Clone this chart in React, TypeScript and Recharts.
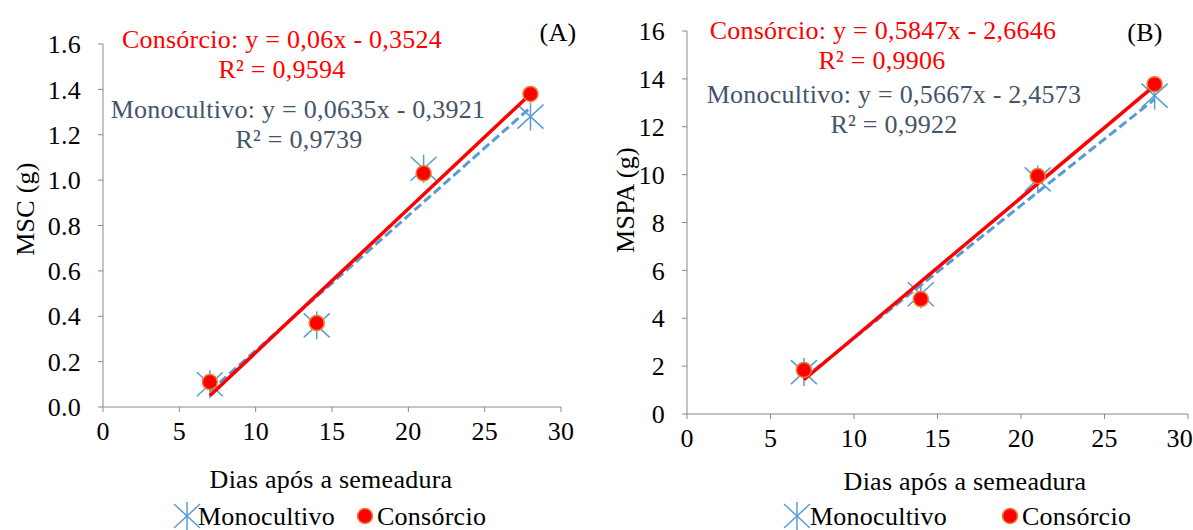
import { ScatterChart, Scatter, XAxis, YAxis, Customized } from "recharts";

const dias = [7, 14, 21, 28];
const mscMono = [0.1, 0.36, 1.05, 1.28];
const mscCons = [0.11, 0.37, 1.03, 1.38];
const mspaMono = [1.75, 5.0, 9.8, 13.3];
const mspaCons = [1.84, 4.8, 9.94, 13.78];

// extremos das linhas de tendência
const trendDias = [7, 28];
const mscMonoTrend = [0.07, 1.32];
const mscConsTrend = [0.05, 1.38];
const mspaMonoTrend = [1.5, 13.15];
const mspaConsTrend = [1.43, 13.72];

const xTicks = [0, 5, 10, 15, 20, 25, 30];
const mscTicks = [0, 0.2, 0.4, 0.6, 0.8, 1.0, 1.2, 1.4, 1.6];
const mspaTicks = [0, 2, 4, 6, 8, 10, 12, 14, 16];

const FONT = "Liberation Serif";
const RED = "#FF0000";
const SLATE = "#44546A";
const BLUE = "#5B9BD5";
const AXIS = "#898989";

const toPts = (xs: number[], ys: number[]) => xs.map((x, i) => ({ x, y: ys[i] }));

const Asterisk = (props: any) => {
  const { cx, cy } = props;
  return (
    <g stroke={BLUE} strokeWidth={1.5}>
      <line x1={cx - 13} y1={cy - 12} x2={cx + 13} y2={cy + 12} />
      <line x1={cx - 13} y1={cy + 12} x2={cx + 13} y2={cy - 12} />
      <line x1={cx} y1={cy - 14} x2={cx} y2={cy + 14} />
    </g>
  );
};

const RedDot = (props: any) => (
  <circle cx={props.cx} cy={props.cy} r={7.5} fill={RED} stroke="#ED7D31" strokeWidth={1.5} />
);

const txt = { fontFamily: FONT, fontSize: 26, letterSpacing: 0.25 };

type Note = { text: string; x: number; y: number; color: string };

type PanelProps = {
  width: number;
  margin: { top: number; right: number; left: number; bottom: number };
  yAxisWidth: number;
  xAxisHeight: number;
  yTicks: number[];
  yMax: number;
  yFmt: (v: number) => string;
  mono: number[];
  cons: number[];
  monoTrend: number[];
  consTrend: number[];
  notes: Note[];
  yLabel: { text: string; x: number; y: number };
  xLabel: { x: number; y: number };
  legend: { star: number; monoText: number; dot: number; consText: number; y: number };
};

function Panel(p: PanelProps) {
  return (
    <ScatterChart width={p.width} height={530} margin={p.margin}>
      <XAxis
        type="number"
        dataKey="x"
        domain={[0, 30]}
        ticks={xTicks}
        height={p.xAxisHeight}
        axisLine={{ stroke: AXIS }}
        tickLine={{ stroke: AXIS }}
        tickSize={5}
        tickMargin={10}
        tick={{ fill: "#000", ...txt }}
      />
      <YAxis
        type="number"
        dataKey="y"
        domain={[0, p.yMax]}
        ticks={p.yTicks}
        width={p.yAxisWidth}
        tickFormatter={p.yFmt}
        axisLine={{ stroke: AXIS }}
        tickLine={{ stroke: AXIS }}
        tickSize={5}
        tickMargin={17}
        tick={{ fill: "#000", ...txt }}
      />
      <Scatter data={toPts(dias, p.mono)} shape={Asterisk} isAnimationActive={false} />
      <Scatter
        data={toPts(trendDias, p.monoTrend)}
        line={{ stroke: BLUE, strokeWidth: 3, strokeDasharray: "9 4" }}
        shape={() => <g />}
        isAnimationActive={false}
      />
      <Scatter
        data={toPts(trendDias, p.consTrend)}
        line={{ stroke: RED, strokeWidth: 3.5 }}
        shape={() => <g />}
        isAnimationActive={false}
      />
      <Scatter data={toPts(dias, p.cons)} shape={RedDot} isAnimationActive={false} />
      <Customized
        component={() => (
          <g>
            {p.notes.map((n) => (
              <text key={n.text} x={n.x} y={n.y} fill={n.color} textAnchor="middle" {...txt}>
                {n.text}
              </text>
            ))}
            <text
              transform={`translate(${p.yLabel.x},${p.yLabel.y}) rotate(-90)`}
              y={9}
              textAnchor="middle"
              fill="#000"
              {...txt}
            >
              {p.yLabel.text}
            </text>
            <text x={p.xLabel.x} y={p.xLabel.y} textAnchor="middle" fill="#000" {...txt}>
              Dias após a semeadura
            </text>
            <Asterisk cx={p.legend.star} cy={p.legend.y - 9} />
            <text x={p.legend.monoText} y={p.legend.y} fill="#000" {...txt}>
              Monocultivo
            </text>
            <RedDot cx={p.legend.dot} cy={p.legend.y - 9} />
            <text x={p.legend.consText} y={p.legend.y} fill="#000" {...txt}>
              Consórcio
            </text>
          </g>
        )}
      />
    </ScatterChart>
  );
}

export default function App() {
  return (
    <div style={{ position: "absolute", left: 0, top: 0, width: 1193, height: 530, background: "#fff", overflow: "hidden" }}>
      <div style={{ position: "absolute", left: 0, top: 0 }}>
        <Panel
          width={600}
          margin={{ top: 44, right: 39, left: 13, bottom: 38 }}
          yAxisWidth={90}
          xAxisHeight={85}
          yTicks={mscTicks}
          yMax={1.6}
          yFmt={(v) => v.toFixed(1)}
          mono={mscMono}
          cons={mscCons}
          monoTrend={mscMonoTrend}
          consTrend={mscConsTrend}
          notes={[
            { text: "Consórcio: y = 0,06x - 0,3524", x: 282, y: 48, color: RED },
            { text: "R² = 0,9594", x: 282, y: 78, color: RED },
            { text: "Monocultivo: y = 0,0635x - 0,3921", x: 298, y: 118, color: SLATE },
            { text: "R² = 0,9739", x: 299, y: 148, color: SLATE },
            { text: "(A)", x: 558, y: 41, color: "#000" },
          ]}
          yLabel={{ text: "MSC (g)", x: 25, y: 209 }}
          xLabel={{ x: 331, y: 488 }}
          legend={{ star: 187, monoText: 198, dot: 365, consText: 377, y: 525 }}
        />
      </div>
      <div style={{ position: "absolute", left: 600, top: 0 }}>
        <Panel
          width={593}
          margin={{ top: 31, right: 5, left: 17, bottom: 36 }}
          yAxisWidth={70}
          xAxisHeight={80}
          yTicks={mspaTicks}
          yMax={16}
          yFmt={(v) => String(v)}
          mono={mspaMono}
          cons={mspaCons}
          monoTrend={mspaMonoTrend}
          consTrend={mspaConsTrend}
          notes={[
            { text: "Consórcio: y = 0,5847x - 2,6646", x: 283, y: 39, color: RED },
            { text: "R² = 0,9906", x: 282, y: 69, color: RED },
            { text: "Monocultivo: y = 0,5667x - 2,4573", x: 294, y: 103, color: SLATE },
            { text: "R² = 0,9922", x: 294, y: 133, color: SLATE },
            { text: "(B)", x: 545, y: 41, color: "#000" },
          ]}
          yLabel={{ text: "MSPA (g)", x: 25, y: 200 }}
          xLabel={{ x: 365, y: 490 }}
          legend={{ star: 197, monoText: 210, dot: 410, consText: 422, y: 525 }}
        />
      </div>
    </div>
  );
}
